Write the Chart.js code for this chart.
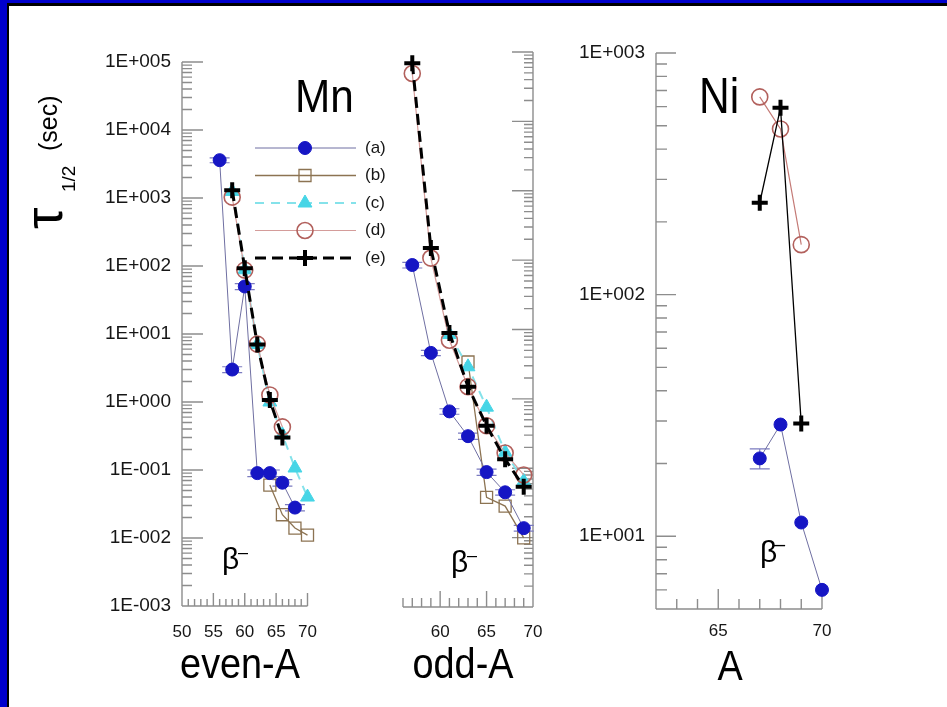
<!DOCTYPE html>
<html>
<head>
<meta charset="utf-8">
<title>Half-lives of Mn and Ni isotopes</title>
<script src="https://cdn.jsdelivr.net/npm/chart.js@4.4.1/dist/chart.umd.min.js"></script>
<style>
  html, body { margin: 0; padding: 0; background: #fff; }
  #page { position: relative; width: 947px; height: 707px; overflow: hidden; background: #fff; }
  #page canvas { position: absolute; left: 0; top: 0; }
  .edge { position: absolute; }
</style>
</head>
<body>
<div id="page">
  <div class="edge" style="left:0;top:0;width:947px;height:3px;background:#0000cd"></div>
  <div class="edge" style="left:7px;top:3px;width:940px;height:3px;background:#000"></div>
  <div class="edge" style="left:0;top:0;width:7px;height:707px;background:#0000cd"></div>
  <div class="edge" style="left:7px;top:3px;width:2px;height:704px;background:#000"></div>
  <canvas id="evenChart" width="947" height="707"></canvas>
  <canvas id="oddChart" width="947" height="707"></canvas>
  <canvas id="niChart" width="947" height="707"></canvas>
</div>
<script>
// --- tick labels ---
const mnDecades = [1e-3, 1e-2, 1e-1, 1, 10, 100, 1e3, 1e4, 1e5];
const mnDecadeLabels = ['1E-003', '1E-002', '1E-001', '1E+000', '1E+001', '1E+002', '1E+003', '1E+004', '1E+005'];
const niDecades = [10, 100, 1000];
const niDecadeLabels = ['1E+001', '1E+002', '1E+003'];
const evenTicks = [50, 55, 60, 65, 70];
const oddTicks = [60, 65, 70];
const niTicks = [65, 70];
const seriesNames = ['(a)', '(b)', '(c)', '(d)', '(e)'];

// --- Mn, even A (half-life in seconds) ---
const evenA_a = [56, 58, 60, 62, 64, 66, 68];
const evenT_a = [3600, 3.0, 50, 0.09, 0.09, 0.065, 0.028];
const evenErr_a = [300, 0.3, 5, 0.01, 0.01, 0.007, 0.003];
const evenA_b = [64, 66, 68, 70];
const evenT_b = [0.06, 0.022, 0.014, 0.011];
const evenA_c = [58, 60, 62, 64, 66, 68, 70];
const evenT_c = [1250, 88, 7, 1.0, 0.33, 0.107, 0.04];
const evenA_d = [58, 60, 62, 64, 66];
const evenT_d = [1030, 87, 7.1, 1.27, 0.43];
const evenA_e = [58, 60, 62, 64, 66];
const evenT_e = [1300, 93, 7, 1.07, 0.3];

// --- Mn, odd A ---
const oddA_a = [57, 59, 61, 63, 65, 67, 69];
const oddT_a = [85, 4.6, 0.66, 0.29, 0.088, 0.045, 0.0137];
const oddErr_a = [8, 0.4, 0.06, 0.03, 0.009, 0.004, 0.0013];
const oddA_b = [63, 65, 67, 69];
const oddT_b = [3.4, 0.038, 0.0285, 0.0099];
const oddA_c = [61, 63, 65, 67, 69];
const oddT_c = [8.5, 2.9, 0.76, 0.17, 0.065];
const oddA_d = [57, 59, 61, 63, 65, 67, 69];
const oddT_d = [49000, 107, 7.0, 1.5, 0.41, 0.166, 0.08];
const oddA_e = [57, 59, 61, 63, 65, 67, 69];
const oddT_e = [69000, 149, 8.9, 1.5, 0.41, 0.135, 0.054];

// --- Ni ---
const niA_a = [67, 68, 69, 70];
const niT_a = [21, 29, 11.4, 6.0];
const niErr_a = [2, 0, 0, 0];
const niA_d = [67, 68, 69];
const niT_d = [658, 485, 161];
const niA_e = [67, 68, 69];
const niT_e = [240, 593, 29.3];

const FONT = "'Liberation Sans', Arial, Helvetica, sans-serif";
const INK = '#161616';

// series looks
const styleA = { borderColor: '#6f6fa2', borderWidth: 1, pointStyle: 'circle', pointRadius: 6.5,
  pointBackgroundColor: '#1616c4', pointBorderColor: '#1616c4', pointBorderWidth: 1 };
const styleB = { borderColor: '#8c7352', borderWidth: 1.3, pointStyle: 'rect', pointRadius: 8.5,
  pointBackgroundColor: 'rgba(255,255,255,0)', pointBorderColor: '#8c7352', pointBorderWidth: 1.3 };
const styleC = { borderColor: '#85e2ea', borderWidth: 2, borderDash: [9, 7], pointStyle: 'triangle', pointRadius: 8,
  pointBackgroundColor: '#46d5e6', pointBorderColor: '#46d5e6', pointBorderWidth: 1 };
const styleD = { borderColor: '#d49c9a', borderWidth: 1.2, pointStyle: 'circle', pointRadius: 8,
  pointBackgroundColor: 'rgba(255,255,255,0)', pointBorderColor: '#b2605c', pointBorderWidth: 1.6 };
const styleE = { borderColor: '#000', borderWidth: 3, borderDash: [11, 6], pointStyle: 'cross', pointRadius: 8,
  pointBackgroundColor: '#000', pointBorderColor: '#000', pointBorderWidth: 4 };
const niStyleD = Object.assign({}, styleD, { borderColor: '#c47a76' });
const niStyleE = Object.assign({}, styleE, { borderWidth: 1.3, borderDash: [] });

function pts(xs, ys) {
  return xs.map((x, i) => ({ x: x, y: ys[i] }));
}

function series(label, xs, ys, style, order, errs) {
  const ds = Object.assign({ label: label, data: pts(xs, ys), showLine: true, clip: false, tension: 0, order: order }, style);
  if (errs) ds.errors = errs;
  return ds;
}

// axis lines with inward ticks (log minors on y, unit minors on x)
function axesLayer(o) {
  return {
    id: 'inwardAxes',
    beforeDatasetsDraw(chart) {
      const { ctx, chartArea: a, scales } = chart;
      const x = scales.x, y = scales.y;
      const edge = o.ySide === 'right' ? a.right : a.left;
      const dir = o.ySide === 'right' ? -1 : 1;
      ctx.save();
      ctx.strokeStyle = '#8d8d8d';
      ctx.lineWidth = 1.4;
      ctx.beginPath();
      ctx.moveTo(edge, a.top);
      ctx.lineTo(edge, a.bottom);
      ctx.moveTo(a.left, a.bottom);
      ctx.lineTo(a.right, a.bottom);
      const lo = Math.floor(Math.log10(y.min)), hi = Math.ceil(Math.log10(y.max));
      for (let e = lo; e <= hi; e++) {
        for (let m = 1; m < 10; m++) {
          const v = m * Math.pow(10, e);
          if (v < y.min * 0.999 || v > y.max * 1.001) continue;
          const py = y.getPixelForValue(v);
          ctx.moveTo(edge, py);
          ctx.lineTo(edge + dir * (m === 1 ? o.yMajor : o.yMinor), py);
        }
      }
      for (let v = Math.ceil(x.min); v <= x.max; v++) {
        const px = x.getPixelForValue(v);
        ctx.moveTo(px, a.bottom);
        ctx.lineTo(px, a.bottom - (v % 5 === 0 ? o.xMajor : o.xMinor));
      }
      ctx.stroke();
      ctx.restore();
    }
  };
}

// vertical error bars with caps, under the markers
const errorBars = {
  id: 'errorBars',
  beforeDatasetsDraw(chart) {
    const { ctx, scales: { x, y } } = chart;
    chart.data.datasets.forEach(ds => {
      if (!ds.errors) return;
      ctx.save();
      ctx.strokeStyle = '#7b7bc0';
      ctx.lineWidth = 1.2;
      ds.data.forEach((p, j) => {
        const e = ds.errors[j];
        if (!e) return;
        const px = x.getPixelForValue(p.x);
        const y1 = y.getPixelForValue(p.y + e), y2 = y.getPixelForValue(p.y - e);
        ctx.beginPath();
        ctx.moveTo(px, y1); ctx.lineTo(px, y2);
        ctx.moveTo(px - 10, y1); ctx.lineTo(px + 10, y1);
        ctx.moveTo(px - 10, y2); ctx.lineTo(px + 10, y2);
        ctx.stroke();
      });
      ctx.restore();
    });
  }
};

// free text: element names, beta labels, axis titles
function textLayer(items) {
  return {
    id: 'panelText',
    afterDraw(chart) {
      const ctx = chart.ctx;
      items.forEach(it => {
        ctx.save();
        ctx.translate(it.x, it.y);
        if (it.rot) ctx.rotate(it.rot);
        ctx.scale(it.sx || 1, 1);
        ctx.font = it.size + 'px ' + FONT;
        ctx.fillStyle = it.color || '#000';
        ctx.textAlign = it.align || 'left';
        ctx.textBaseline = 'alphabetic';
        ctx.fillText(it.t, 0, 0);
        ctx.restore();
      });
    }
  };
}

// series key drawn inside the even-A panel
function keyLayer(styles) {
  return {
    id: 'seriesKey',
    afterDraw(chart) {
      const ctx = chart.ctx;
      styles.forEach((st, i) => {
        const y = 148 + i * 27.5;
        ctx.save();
        ctx.strokeStyle = st.borderColor;
        ctx.lineWidth = st.borderWidth;
        ctx.setLineDash(st.borderDash || []);
        ctx.beginPath();
        ctx.moveTo(255, y);
        ctx.lineTo(356, y);
        ctx.stroke();
        ctx.setLineDash([]);
        ctx.fillStyle = st.pointBackgroundColor;
        ctx.strokeStyle = st.pointBorderColor;
        ctx.lineWidth = st.pointBorderWidth;
        Chart.helpers.drawPoint(ctx, { pointStyle: st.pointStyle, radius: st.pointRadius, rotation: 0,
          borderWidth: st.pointBorderWidth }, 305, y);
        ctx.fillStyle = INK;
        ctx.font = '17px ' + FONT;
        ctx.textBaseline = 'middle';
        ctx.fillText(seriesNames[i], 365, y);
        ctx.restore();
      });
    }
  };
}

function panel(id, cfg) {
  return new Chart(document.getElementById(id), {
    type: 'scatter',
    data: { datasets: cfg.datasets },
    options: {
      responsive: false,
      animation: false,
      events: [],
      layout: { padding: cfg.padding },
      plugins: { legend: { display: false }, tooltip: { enabled: false } },
      scales: {
        x: {
          type: 'linear', min: cfg.xMin, max: cfg.xMax,
          grid: { display: false, drawTicks: false }, border: { display: false },
          ticks: { autoSkip: false, maxRotation: 0, padding: cfg.xPad, color: INK, font: { family: FONT, size: 17 } },
          afterBuildTicks: s => { s.ticks = cfg.xTicks.map(v => ({ value: v })); },
          afterFit: s => { s.height = 80; }
        },
        y: {
          type: 'logarithmic', position: cfg.ySide, min: cfg.yMin, max: cfg.yMax,
          grid: { display: false, drawTicks: false }, border: { display: false },
          ticks: {
            display: cfg.yLabels.length > 0, autoSkip: false, padding: 11, color: INK,
            font: { family: FONT, size: 19 },
            callback: (v, i) => cfg.yLabels[i]
          },
          afterBuildTicks: s => { s.ticks = cfg.yTicks.map(v => ({ value: v })); },
          afterFit: s => { s.width = cfg.yWidth; }
        }
      }
    },
    plugins: [axesLayer(cfg.axes), errorBars, textLayer(cfg.texts)].concat(cfg.extra || [])
  });
}

// even-A Mn
panel('evenChart', {
  padding: { left: 102, top: 62, right: 639.5, bottom: 21 },
  xMin: 50, xMax: 70, xTicks: evenTicks, xPad: 16,
  yMin: 1e-3, yMax: 1e5, yTicks: mnDecades, yLabels: mnDecadeLabels, ySide: 'left', yWidth: 80,
  axes: { ySide: 'left', yMajor: 21, yMinor: 10, xMajor: 13, xMinor: 7 },
  datasets: [
    series('(e)', evenA_e, evenT_e, styleE, 0),
    series('(a)', evenA_a, evenT_a, styleA, 1, evenErr_a),
    series('(d)', evenA_d, evenT_d, styleD, 2),
    series('(c)', evenA_c, evenT_c, styleC, 3),
    series('(b)', evenA_b, evenT_b, styleB, 4)
  ],
  texts: [
    { t: 'Mn', x: 295, y: 112, size: 46, sx: 0.92 },
    { t: 'β', x: 222, y: 569, size: 30 },
    { t: '–', x: 238, y: 558, size: 18 },
    { t: 'even-A', x: 240, y: 678, size: 42, sx: 0.9, align: 'center' },
    { t: 'τ', x: 62, y: 229, size: 54, rot: -Math.PI / 2 },
    { t: '1/2', x: 75, y: 192, size: 19, rot: -Math.PI / 2 },
    { t: '(sec)', x: 57, y: 151, size: 25, rot: -Math.PI / 2 }
  ],
  extra: [keyLayer([styleA, styleB, styleC, styleD, styleE])]
});

// odd-A Mn
panel('oddChart', {
  padding: { left: 403, top: 52, right: 404, bottom: 20 },
  xMin: 56, xMax: 70, xTicks: oddTicks, xPad: 15,
  yMin: 1e-3, yMax: 1e5, yTicks: mnDecades, yLabels: [], ySide: 'right', yWidth: 10,
  axes: { ySide: 'right', yMajor: 21, yMinor: 9, xMajor: 16, xMinor: 9 },
  datasets: [
    series('(e)', oddA_e, oddT_e, styleE, 0),
    series('(a)', oddA_a, oddT_a, styleA, 1, oddErr_a),
    series('(d)', oddA_d, oddT_d, styleD, 2),
    series('(c)', oddA_c, oddT_c, styleC, 3),
    series('(b)', oddA_b, oddT_b, styleB, 4)
  ],
  texts: [
    { t: 'β', x: 451, y: 572, size: 30 },
    { t: '–', x: 467, y: 561, size: 18 },
    { t: 'odd-A', x: 463, y: 678, size: 42, sx: 0.9, align: 'center' }
  ]
});

// Ni
panel('niChart', {
  padding: { left: 576, top: 53, right: 125, bottom: 18 },
  xMin: 62, xMax: 70, xTicks: niTicks, xPad: 12,
  yMin: 5, yMax: 1000, yTicks: niDecades, yLabels: niDecadeLabels, ySide: 'left', yWidth: 80,
  axes: { ySide: 'left', yMajor: 20, yMinor: 11, xMajor: 20, xMinor: 10 },
  datasets: [
    series('(e)', niA_e, niT_e, niStyleE, 0),
    series('(a)', niA_a, niT_a, styleA, 1, niErr_a),
    series('(d)', niA_d, niT_d, niStyleD, 2)
  ],
  texts: [
    { t: 'Ni', x: 699, y: 113, size: 50, sx: 0.85 },
    { t: 'β', x: 760, y: 562, size: 30 },
    { t: '–', x: 774, y: 551, size: 20 },
    { t: 'A', x: 730, y: 680, size: 42, sx: 0.9, align: 'center' }
  ]
});
</script>
</body>
</html>
